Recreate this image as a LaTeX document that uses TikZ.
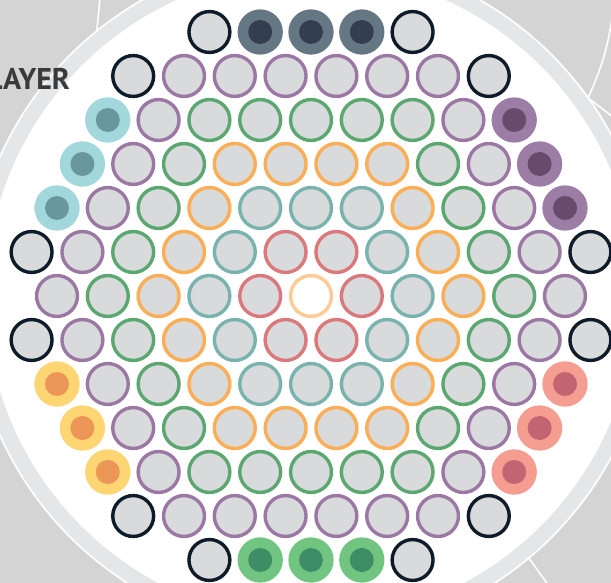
\documentclass[tikz,border=0pt]{standalone}
\usepackage{fontspec}
\setsansfont{PT Sans}
\usetikzlibrary{positioning}

\definecolor{bggray}{HTML}{D4D4D4}
\definecolor{bandgray}{HTML}{E5E6E8}
\definecolor{cellgray}{HTML}{D9DADC}
\definecolor{labelgray}{HTML}{3A3A3A}
\definecolor{ringcore}{HTML}{FDCB93}
\definecolor{ringred}{HTML}{DB787C}
\definecolor{ringteal}{HTML}{7AB3AE}
\definecolor{ringorange}{HTML}{FBAE55}
\definecolor{ringgreen}{HTML}{5AA76F}
\definecolor{ringpurple}{HTML}{9B78A4}
\definecolor{ringblack}{HTML}{0E1B28}
\definecolor{slateOut}{HTML}{667784}
\definecolor{slateIn}{HTML}{333E50}
\definecolor{tealOut}{HTML}{A2D8DB}
\definecolor{tealIn}{HTML}{68989C}
\definecolor{plumOut}{HTML}{9C7DA6}
\definecolor{plumIn}{HTML}{684A6C}
\definecolor{amberOut}{HTML}{FDD573}
\definecolor{amberIn}{HTML}{EC9657}
\definecolor{coralOut}{HTML}{F59D91}
\definecolor{coralIn}{HTML}{C36473}
\definecolor{leafOut}{HTML}{72C481}
\definecolor{leafIn}{HTML}{3E8D67}

\begin{document}
\begin{tikzpicture}[
  x=1pt, y=-1pt,
  every node/.style={inner sep=0pt, outer sep=0pt},
  cell/.style={
    circle, draw, fill=cellgray,
    line width=3.4pt, minimum size=40.9pt,
  },
  ring0/.style={cell, draw=ringcore, fill=white},
  ring1/.style={cell, draw=ringred},
  ring2/.style={cell, draw=ringteal},
  ring3/.style={cell, draw=ringorange},
  ring4/.style={cell, draw=ringgreen},
  ring5/.style={cell, draw=ringpurple},
  ring6/.style={cell, draw=ringblack},
  plug/.style 2 args={
    circle, draw=none, minimum size=45.3pt, fill=#1,
    path picture={\fill[#2] (path picture bounding box.center) circle (12pt);},
  },
  plug1/.style={plug={slateOut}{slateIn}},
  plug2/.style={plug={leafOut}{leafIn}},
  plug3/.style={plug={plumOut}{plumIn}},
  plug4/.style={plug={amberOut}{amberIn}},
  plug5/.style={plug={tealOut}{tealIn}},
  plug6/.style={plug={coralOut}{coralIn}},
  divider/.style={white, line width=1.6pt},
]
  % Background and outer band
  \fill[bggray] (0,0) rectangle (611,583);
  \useasboundingbox (0,0) rectangle (611,583);
  \coordinate (mid) at (311,296);
  \fill[white] (mid) circle (341.6pt);
  \fill[bandgray] (mid) circle (339.8pt);
  \fill[white] (mid) circle (325pt);

  % Dividers of the outer panels
  \draw[divider] (96.7,32) -- (100,-2);
  \draw[divider] (588,98) to[bend right=8] (613,12);
  \draw[divider] (588,98) -- (613,117);
  \draw[divider] (528,557) -- (549,586);

  % Label
  \node[anchor=base east, text=labelgray,
        font=\sffamily\bfseries\fontsize{30}{30}\selectfont] (title) at (70,90) {LAYER};

  % Cells, ring by ring
  \foreach \r in {-6,...,6}{
    \foreach \q in {-6,...,6}{
      \pgfmathtruncatemacro\s{-(\q)-(\r)}
      \pgfmathtruncatemacro\d{max(abs(\q),abs(\r),abs(\s))}
      \pgfmathtruncatemacro\m{min(abs(\q),abs(\r),abs(\s))}
      \pgfmathtruncatemacro\e{(\r==-6)*1+(\r==6)*2+(\q==6)*3+(\q==-6)*4+(\s==6)*5+(\s==-6)*6}
      \pgfmathtruncatemacro\i{\q+6}
      \pgfmathtruncatemacro\j{\r+6}
      \pgfmathsetmacro\px{311+50.8*(\q+\r/2)}
      \pgfmathsetmacro\py{296+44*\r}
      \ifnum\d<6
        \node[ring\d] (c\i-\j) at (\px,\py) {};
      \else\ifnum\d=6
        \ifnum\m=1
          \node[ring6] (c\i-\j) at (\px,\py) {};
        \else\ifnum\m>1
          \node[plug\e] (c\i-\j) at (\px,\py) {};
        \fi\fi
      \fi\fi
    }
  }

\end{tikzpicture}
\end{document}
